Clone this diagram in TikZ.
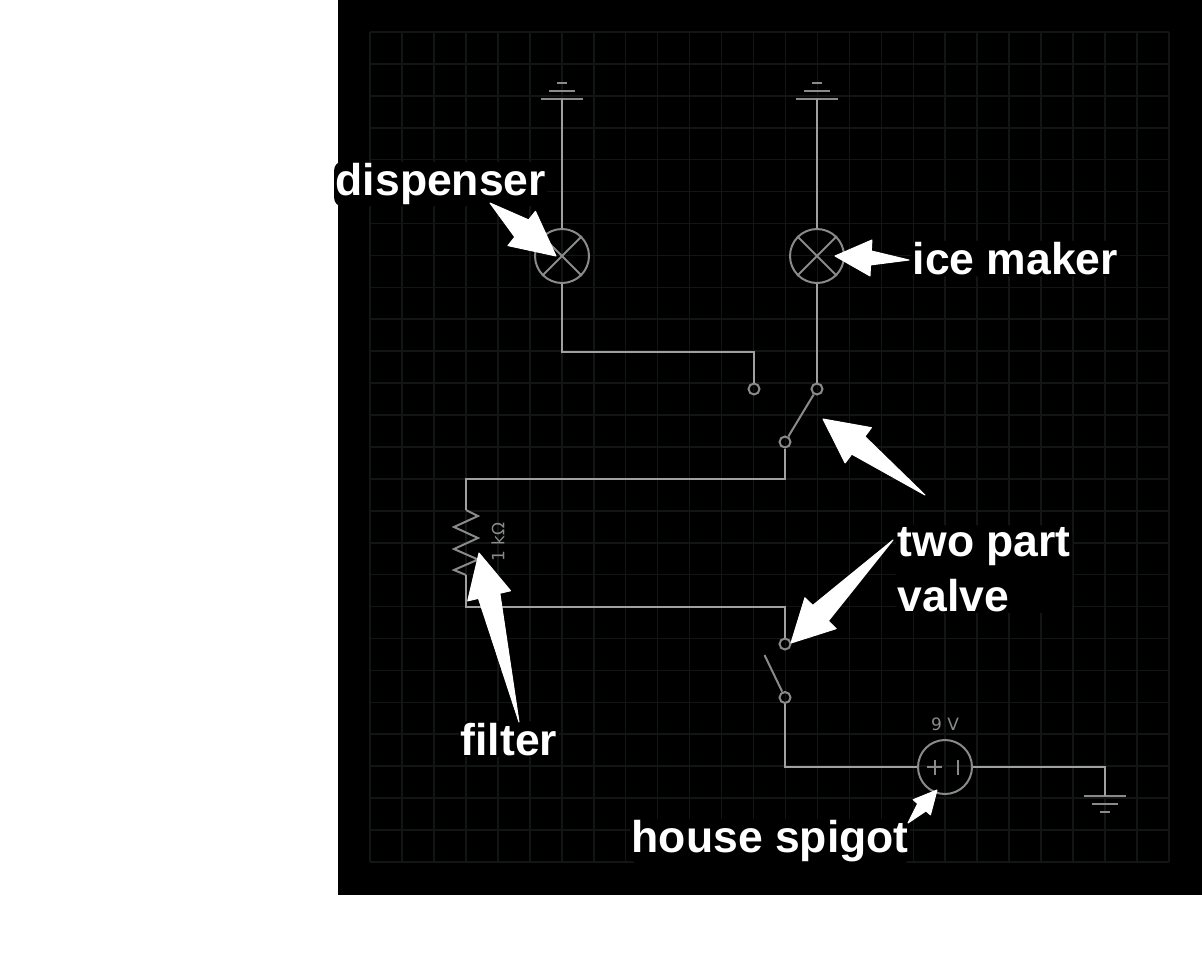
\documentclass[tikz,border=0pt]{standalone}
\usepackage{fontspec}
\setmainfont{Liberation Sans}
\newfontfamily\partfont{DejaVu Sans}
\usetikzlibrary{calc}
\definecolor{gridcol}{HTML}{111614}
\definecolor{wirecol}{HTML}{A0A0A0}
\definecolor{partcol}{HTML}{8A8A8A}
\tikzset{
  gridline/.style={gridcol,line width=1.6pt},
  wire/.style={wirecol,line width=2pt},
  partline/.style={partcol,line width=2pt},
  lamp/.style={shape=circle,draw=partcol,line width=2pt,minimum size=54pt,inner sep=0pt},
  terminal/.style={shape=circle,draw=partcol,line width=2pt,minimum size=11pt,inner sep=0pt},
  partlabel/.style={partcol,font=\partfont\fontsize{17}{20}\selectfont,inner sep=0pt},
  caption/.style={white,fill=black,rounded corners=8pt,inner sep=1.5pt,anchor=base west,align=left,
    font=\bfseries\fontsize{44.5}{55}\selectfont},
  callout/.style={white,fill=white,line width=1pt,line join=round}
}
% #1 tail, #2 tip, #3 head length, #4 head half width, #5 stem half width
\newcommand{\callarrow}[5]{
  \filldraw[callout] (#1)
    -- ($(#2)!#3!(#1)!#5!90:(#1)$)
    -- ($(#2)!#3!(#1)!#4!90:(#1)$)
    -- (#2)
    -- ($(#2)!#3!(#1)!#4!-90:(#1)$)
    -- ($(#2)!#3!(#1)!#5!-90:(#1)$)
    -- cycle;
}
\newcommand{\supply}[2]{
  \draw[partline] ($(#1)+(-21,#2*0)$) -- ($(#1)+(21,#2*0)$);
  \draw[partline] ($(#1)+(-13,#2*8)$) -- ($(#1)+(13,#2*8)$);
  \draw[partline] ($(#1)+(-5,#2*16)$) -- ($(#1)+(5,#2*16)$);
}
\begin{document}
\begin{tikzpicture}[x=1pt,y=-1pt]
\useasboundingbox (0,0) rectangle (1202,954);
\fill[white] (0,0) rectangle (1202,954);
\fill[black] (338,0) rectangle (1202,895);
\foreach \i in {0,...,25}
  \draw[gridline] ({370+\i*31.96},32) -- ({370+\i*31.96},862);
\foreach \j in {0,...,26}
  \draw[gridline] (370,{32+\j*31.92}) -- (1169,{32+\j*31.92});

\coordinate (topleft) at (562,98.5);
\coordinate (topright) at (817,98.5);
\coordinate (earth) at (1105,796);
\node[lamp] (lampdisp) at (562,256) {};
\node[lamp] (lampice) at (817,256) {};
\node[terminal] (termdisp) at (754,389) {};
\node[terminal] (termice) at (817,389) {};
\node[terminal] (termup) at (785,442) {};
\node[terminal] (termin) at (785,644) {};
\node[terminal] (termout) at (785,697.5) {};
\coordinate (lever) at (764.5,655);
\node[lamp] (source) at (945,767) {};
\coordinate (rtop) at (466,510);
\coordinate (rbot) at (466,575);
\node[partlabel,rotate=90] (rlabel) at (498,542) {1 kΩ};
\node[partlabel] (vtext) at (945,724) {9 V};

\supply{topleft}{-1}
\supply{topright}{-1}
\supply{earth}{1}
\draw[partline] (lampdisp.45) -- (lampdisp.225) (lampdisp.135) -- (lampdisp.-45);
\draw[partline] (lampice.45) -- (lampice.225) (lampice.135) -- (lampice.-45);
\draw[partline] (termice) -- (termup);
\draw[partline] (termout) -- (lever);
\draw[partline] (927,767) -- (942,767) (934.5,760) -- (934.5,775) (958,760) -- (958,775);
\draw[partline,line join=miter] (rtop) -- (478,516) -- (454,527) -- (478,538)
  -- (454,549) -- (478,559.5) -- (454,570) -- (rbot);

\draw[wire] (topleft) -- (lampdisp);
\draw[wire] (topright) -- (lampice);
\draw[wire] (lampdisp) -- (562,352) -| (termdisp);
\draw[wire] (lampice) -- (termice);
\draw[wire] (termup) |- (rtop |- 0,479) -- (rtop);
\draw[wire] (rbot) |- (785,607) -- (termin);
\draw[wire] (termout) |- (source);
\draw[wire] (source) -| (earth);

\node[caption] (dispenser) at (334,195.5) {dispenser};
\node[caption] (icemaker) at (911,274.5) {ice maker};
\node[caption] (valve) at (896,611) {two part\\valve};
\node[caption] (filter) at (459,755) {filter};
\node[caption] (spigot) at (630,852.5) {house spigot};

\coordinate (disptail) at (490,203);
\coordinate (disptip) at (556,256);
\coordinate (icetail) at (909,260);
\coordinate (icetip) at (835,256);
\coordinate (valvetailup) at (925,495);
\coordinate (valvetipup) at (823,419);
\coordinate (valvetaildown) at (893,540);
\coordinate (valvetipdown) at (791,643);
\coordinate (filtertail) at (519,722);
\coordinate (filtertip) at (479,553);
\coordinate (spigottail) at (908,823);
\coordinate (spigottip) at (937,790);
\callarrow{disptail}{disptip}{44pt}{22pt}{11pt}
\callarrow{icetail}{icetip}{36pt}{18pt}{7pt}
\callarrow{valvetailup}{valvetipup}{44pt}{22pt}{11pt}
\callarrow{valvetaildown}{valvetipdown}{42pt}{22pt}{11pt}
\callarrow{filtertail}{filtertip}{44pt}{22pt}{11pt}
\callarrow{spigottail}{spigottip}{23pt}{11.5pt}{5.5pt}
\end{tikzpicture}
\end{document}
